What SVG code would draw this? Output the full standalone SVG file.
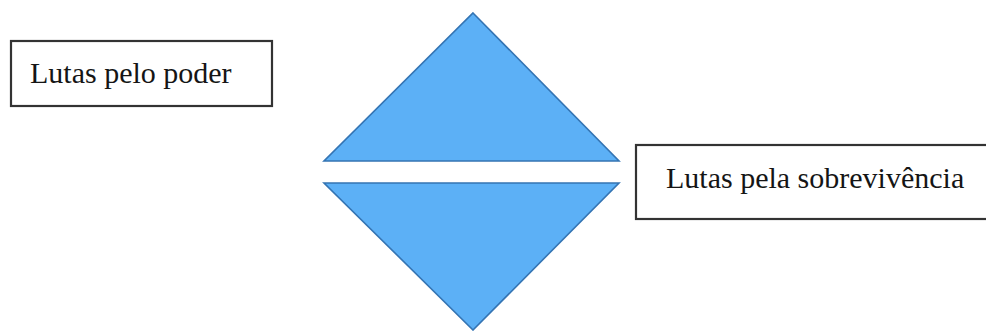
<svg xmlns="http://www.w3.org/2000/svg" width="986" height="331" viewBox="0 0 986 331">
  <style>
    .box { fill: #ffffff; stroke: #333333; stroke-width: 2.2; }
    .tri { fill: #5cb0f6; stroke: #3474b3; stroke-width: 1.6; stroke-linejoin: miter; }
    .lbl { font-family: "Liberation Serif", "Times New Roman", serif; font-size: 30px; fill: #151515; }
  </style>
  <rect width="986" height="331" fill="#ffffff"/>
  <g id="triangle-top">
    <polygon class="tri" points="473,13 619,161 324,161"/>
  </g>
  <g id="triangle-bottom">
    <polygon class="tri" points="324,183 619,183 473,330"/>
  </g>
  <g id="box-poder">
    <rect class="box" x="11" y="41" width="261" height="65"/>
    <text class="lbl" x="30" y="83">Lutas pelo poder</text>
  </g>
  <g id="box-sobrevivencia">
    <rect class="box" x="636" y="145" width="360" height="74"/>
    <text class="lbl" x="666" y="188">Lutas pela sobrevivência</text>
  </g>
  <g id="connectors"></g>
</svg>
